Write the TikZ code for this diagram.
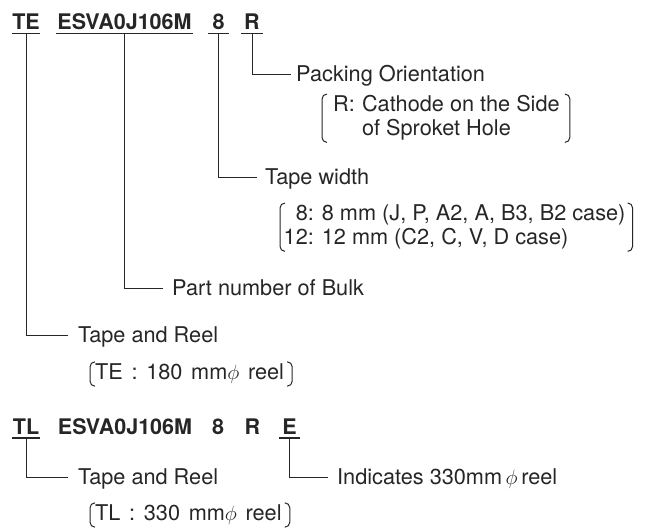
\documentclass[tikz,border=0pt]{standalone}
\usepackage{fontspec}
\setmainfont{TeX Gyre Heros}
\definecolor{ink}{RGB}{38,38,38}
\newcommand\bracketpair[3]{%
  \draw[brk] ([xshift=-#2pt+5pt]#1.north west) -- ([xshift=-#2pt]#1.north west) -- ([xshift=-#2pt]#1.south west) -- ([xshift=-#2pt+5pt]#1.south west);
  \draw[brk] ([xshift=#3pt-5pt]#1.north east) -- ([xshift=#3pt]#1.north east) -- ([xshift=#3pt]#1.south east) -- ([xshift=#3pt-5pt]#1.south east);}
\begin{document}
\begin{tikzpicture}[x=1pt,y=-1pt,color=ink,
  font=\fontsize{21.7}{24}\selectfont,
  code/.style={font=\fontsize{21.5}{24}\selectfont\bfseries, inner sep=0pt, anchor=base},
  lbl/.style={anchor=west, inner sep=0pt, text height=15pt, text depth=0pt},
  grp/.style={inner sep=0pt, align=left},
  reel/.style={inner sep=0pt, anchor=base west, text height=17pt, text depth=7pt},
  ul/.style={line width=1.3pt},
  conn/.style={line width=1pt},
  brk/.style={line width=1pt, rounded corners=5pt}]
\useasboundingbox (0,0) rectangle (657,528);
% first code row
\node[code, minimum width=28pt] (te) at (26,29.5) {TE};
\node[code, minimum width=137pt] (esva) at (124.5,29.5) {ESVA0J106M};
\node[code, minimum width=21pt] (c8) at (218.5,29.5) {8};
\node[code, minimum width=22pt] (cr) at (252,29.5) {R};
\foreach \n in {te,esva,c8,cr}
  \draw[ul] ([yshift=-4pt]\n.base west) -- ([yshift=-4pt]\n.base east);
% labels
\node[lbl] (pack) at (296,74) {Packing Orientation};
\node[grp, anchor=north west] (rg) at (333,94) {\begin{tabular}{@{}l@{\hspace{0.33em}}l@{}}R: & Cathode on the Side\\ & of Sproket Hole\end{tabular}};
\bracketpair{rg}{11}{10}
\node[lbl] (tw) at (265,177) {Tape width};
\node[grp, anchor=north west] (tg) at (283.5,203) {\begin{tabular}{@{}r@{: }l@{}}8 & 8 mm (J, P, A2, A, B3, B2 case)\\ 12 & 12 mm (C2, C, V, D case)\end{tabular}};
\bracketpair{tg}{3.5}{7}
\node[lbl] (pn) at (172,288) {Part number of Bulk};
\node[lbl] (tr1) at (78,335) {Tape and Reel};
\node[reel] (ter) at (95,379) {\spaceskip=0.4em TE : 180 mm$\phi$ reel};
\bracketpair{ter}{5}{8}
\draw[conn] ([yshift=-4pt]cr.base) |- ([xshift=-5pt]pack.west);
\draw[conn] ([yshift=-4pt]c8.base) |- ([xshift=-8pt]tw.west);
\draw[conn] ([yshift=-4pt]esva.base) |- ([xshift=-9pt]pn.west);
\draw[conn] ([yshift=-4pt]te.base) |- ([xshift=-10pt]tr1.west);
% second code row
\node[code, minimum width=28pt] (tl) at (26,434) {TL};
\node[code] (esva2) at (125,434) {ESVA0J106M};
\node[code] (c82) at (218,434) {8};
\node[code] (cr2) at (252.5,434) {R};
\node[code, minimum width=21pt] (ce) at (289.5,434) {E};
\foreach \n in {tl,ce}
  \draw[ul] ([yshift=-4pt]\n.base west) -- ([yshift=-4pt]\n.base east);
\node[lbl] (tr2) at (78,477) {Tape and Reel};
\node[lbl] (ind) at (337,477) {Indicates 330mm\,$\phi$\,reel};
\node[reel] (tlr) at (95,520) {\spaceskip=0.4em TL : 330 mm$\phi$ reel};
\bracketpair{tlr}{5}{8}
\draw[conn] ([yshift=-4pt]tl.base) |- ([xshift=-10pt]tr2.west);
\draw[conn] ([yshift=-4pt]ce.base) |- ([xshift=-9pt]ind.west);
\end{tikzpicture}
\end{document}
